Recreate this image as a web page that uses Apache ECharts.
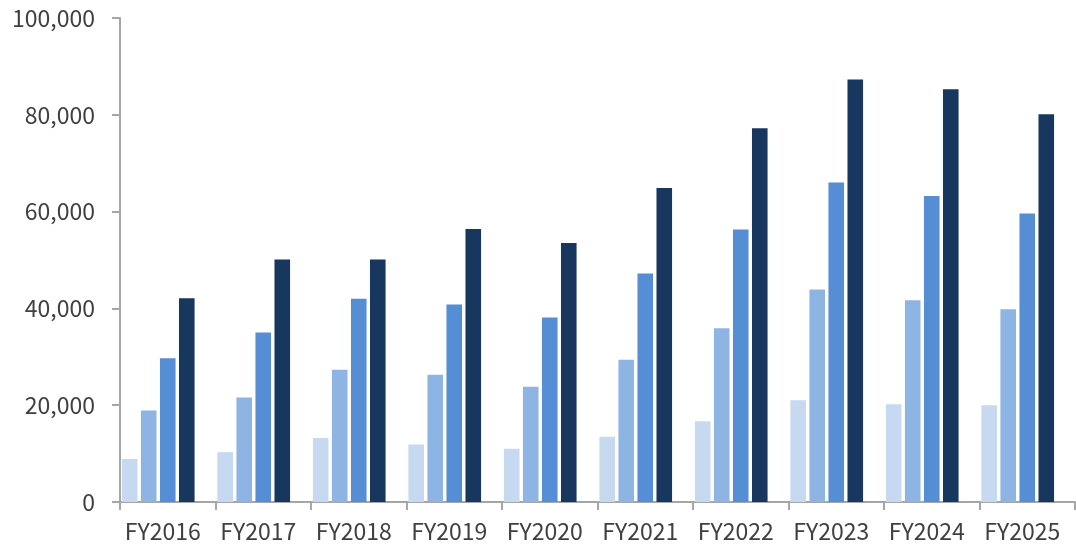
<!DOCTYPE html>
<html>
<head>
<meta charset="utf-8">
<script src="https://cdn.jsdelivr.net/npm/echarts@6/dist/echarts.min.js"></script>
<style>
  html, body { margin: 0; padding: 0; background: #fff; }
  #myChart { width: 1076px; height: 550px; }
</style>
</head>
<body>
<div id="myChart"></div>
<script>
let myChart = echarts.init(document.getElementById('myChart'));

const years = ['FY2016', 'FY2017', 'FY2018', 'FY2019', 'FY2020', 'FY2021', 'FY2022', 'FY2023', 'FY2024', 'FY2025'];
const series1 = [8900, 10300, 13200, 11900, 11000, 13500, 16700, 21000, 20200, 20000];
const series2 = [18900, 21600, 27300, 26300, 23800, 29400, 35900, 43900, 41700, 39800];
const series3 = [29700, 35000, 42000, 40800, 38100, 47200, 56300, 66000, 63200, 59600];
const series4 = [42100, 50100, 50100, 56400, 53500, 64900, 77200, 87300, 85300, 80100];
const colors = ['#c6d9f1', '#8eb4e3', '#558ed5', '#17375e'];

const font = '"Noto Sans CJK JP", "Noto Sans", sans-serif';

function bar(data, i) {
  return {
    type: 'bar',
    data: data,
    barCategoryGap: '4%',
    barGap: '22%',
    itemStyle: { color: colors[i] },
  };
}

let myChartOption = {
  animation: false,
  grid: {
    left: 120,
    right: 1,
    top: 18,
    bottom: 48,
  },
  xAxis: {
    type: 'category',
    data: years,
    axisLine: { lineStyle: { color: '#a6a6a6', width: 2 } },
    axisTick: { show: true, interval: 0, length: 8, lineStyle: { color: '#a6a6a6', width: 2 } },
    axisLabel: {
      interval: 0,
      hideOverlap: false,
      color: '#404040',
      fontFamily: font,
      fontSize: 23,
      margin: 18,
      padding: [0, 10, 0, 0],
    },
  },
  yAxis: {
    type: 'value',
    min: 0,
    max: 100000,
    interval: 20000,
    axisLine: { show: true, lineStyle: { color: '#a6a6a6', width: 2 } },
    axisTick: { show: true, length: 8, lineStyle: { color: '#a6a6a6', width: 2 } },
    splitLine: { show: false },
    axisLabel: {
      color: '#404040',
      fontFamily: font,
      fontSize: 23,
      margin: 25,
      formatter: function (v) {
        return v.toLocaleString('en-US');
      },
    },
  },
  series: [
    bar(series1, 0),
    bar(series2, 1),
    bar(series3, 2),
    bar(series4, 3),
    // empty slot so the four bars sit to the left of each category
    { type: 'bar', data: [], barCategoryGap: '4%', barGap: '22%' },
  ],
};

myChart.setOption(myChartOption);
</script>
</body>
</html>
